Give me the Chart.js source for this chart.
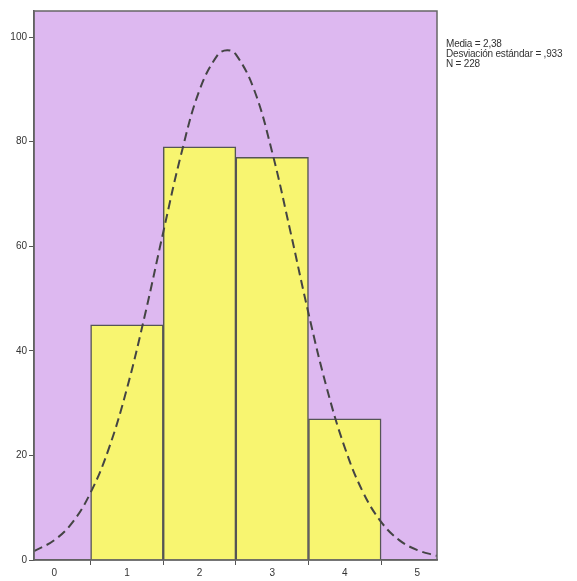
<!DOCTYPE html>
<html lang="es">
<head>
  <meta charset="UTF-8">
  <title>Histograma</title>
  <script src="https://cdn.jsdelivr.net/npm/chart.js"></script>
  <style>
    html, body { margin: 0; padding: 0; background: #fff; }
    .wrap { position: relative; width: 577px; height: 581px; }
    .stats {
      position: absolute; left: 446px; top: 39px;
      font: 10px "Liberation Sans", Arial, sans-serif; color: #333;
      line-height: 10px; letter-spacing: -0.2px; white-space: nowrap;
    }
  </style>
</head>
<body>
  <div class="wrap">
    <canvas id="hist" width="577" height="581"></canvas>
    <div class="stats">Media = 2,38<br>Desviación estándar = ,933<br>N = 228</div>
  </div>

  <script>
    // histogram bins (centre values) and counts
    const binCentres = [1, 2, 3, 4];
    const counts = [45, 79, 77, 27];

    // normal curve
    const curveX = [-0.28, 0, 0.25, 0.5, 0.75, 1, 1.25, 1.5, 1.75, 2, 2.25, 2.38, 2.5, 2.75, 3, 3.25, 3.5, 3.75, 4, 4.25, 4.5, 4.75, 5, 5.27];
    const curveY = [1.7, 3.8, 7.2, 12.9, 21.3, 32.8, 47.0, 62.7, 77.8, 89.9, 96.6, 97.5, 96.7, 90.0, 78.0, 62.9, 47.2, 33.0, 21.5, 13.0, 7.3, 3.8, 1.9, 0.8];

    const xTicks = [0, 1, 2, 3, 4, 5];
    const yTicks = [0, 20, 40, 60, 80, 100];

    const plotBg = {
      id: 'plotBg',
      beforeDraw(chart) {
        const { ctx, chartArea: a } = chart;
        ctx.save();
        ctx.fillStyle = '#DDB8F0';
        ctx.fillRect(a.left, a.top, a.right - a.left, a.bottom - a.top);
        ctx.restore();
      },
      afterDraw(chart) {
        const { ctx, chartArea: a } = chart;
        ctx.save();
        ctx.strokeStyle = '#666';
        ctx.lineWidth = 1.5;
        ctx.strokeRect(a.left, a.top, a.right - a.left, a.bottom - a.top);
        ctx.restore();
      }
    };

    new Chart(document.getElementById('hist'), {
      type: 'bar',
      data: {
        datasets: [
          {
            type: 'line',
            data: curveX.map((x, i) => ({ x, y: curveY[i] })),
            borderColor: '#444',
            borderWidth: 2,
            borderDash: [9, 5],
            pointRadius: 0,
            fill: false,
            tension: 0.4,
            order: 0
          },
          {
            type: 'bar',
            data: binCentres.map((x, i) => ({ x, y: counts[i] })),
            backgroundColor: '#F8F570',
            borderColor: '#555',
            borderWidth: 1.5,
            barPercentage: 1,
            categoryPercentage: 1,
            order: 1
          }
        ]
      },
      options: {
        responsive: false,
        animation: false,
        layout: { padding: { top: 11, right: 140, left: 0, bottom: 0 } },
        plugins: { legend: { display: false }, tooltip: { enabled: false } },
        scales: {
          x: {
            type: 'linear',
            min: -0.28, max: 5.27,
            offset: false,
            afterBuildTicks: s => { s.ticks = xTicks.map(v => ({ value: v })); },
            afterFit: s => { s.height = 21; },
            grid: { drawOnChartArea: false, drawTicks: true, tickLength: 5, color: '#555' },
            border: { color: '#555', width: 1.5 },
            ticks: { color: '#333', font: { family: 'Liberation Sans', size: 10 }, padding: 2 }
          },
          y: {
            min: 0, max: 105,
            afterBuildTicks: s => { s.ticks = yTicks.map(v => ({ value: v })); },
            afterFit: s => { s.width = 34; },
            grid: { drawOnChartArea: false, drawTicks: true, tickLength: 5, color: '#555' },
            border: { color: '#555', width: 1.5 },
            ticks: { color: '#333', font: { family: 'Liberation Sans', size: 10 }, padding: 2 }
          }
        }
      },
      plugins: [plotBg]
    });
  </script>
</body>
</html>
